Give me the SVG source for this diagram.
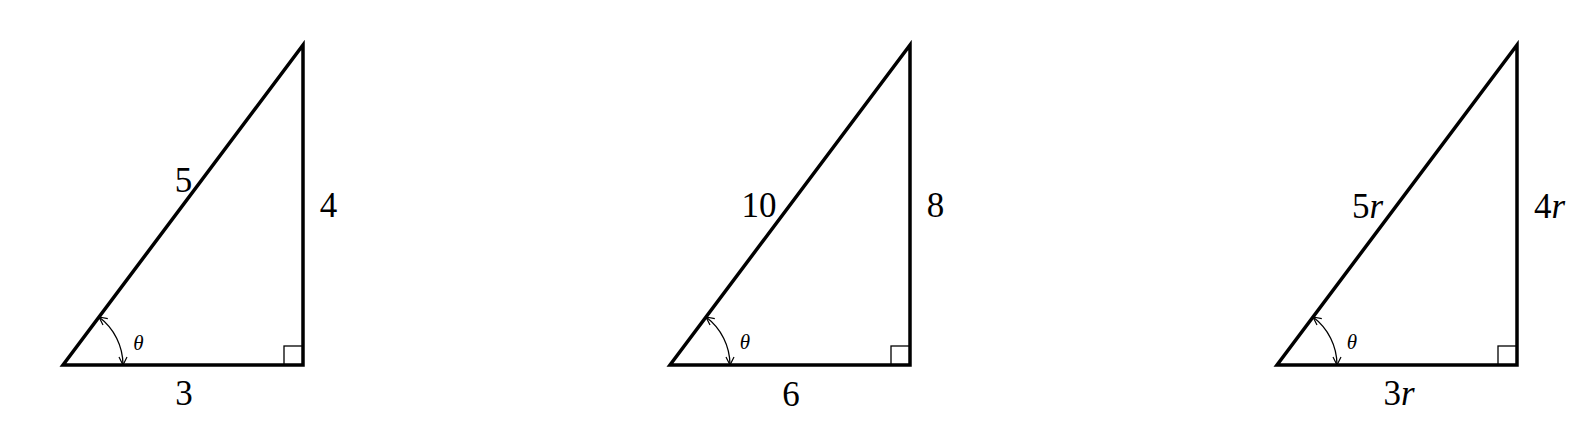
<svg xmlns="http://www.w3.org/2000/svg" width="1586" height="425" viewBox="0 0 1586 425">
<style>
.side{fill:none;stroke:#000;stroke-width:3.5;stroke-linecap:square;stroke-linejoin:miter}
.sq{fill:none;stroke:#000;stroke-width:1.3}
.arc{fill:none;stroke:#000;stroke-width:1.3;marker-start:url(#ah);marker-end:url(#ah)}
.lbl{font-family:"Liberation Serif","Times New Roman",serif;font-size:35px;fill:#000;text-anchor:middle}
.th{font-family:"Liberation Serif","Times New Roman",serif;font-size:21px;font-style:italic;fill:#000;text-anchor:middle}
.it{font-style:italic}
</style>
<defs>
<marker id="ah" viewBox="0 0 10 10" refX="9" refY="5" markerWidth="10" markerHeight="10" markerUnits="userSpaceOnUse" orient="auto-start-reverse">
<path d="M1,1 L9,5 L1,9" fill="none" stroke="#000" stroke-width="1.2"/>
</marker>
</defs>
<rect width="1586" height="425" fill="#fff"/>
<g id="triangle1" transform="translate(63,0)">
<path class="side" d="M0,365 L240,365 L240,45 Z"/>
<rect class="sq" x="221" y="346" width="19" height="19"/>
<path class="arc" d="M60,365 A60,60 0 0 0 36,317"/>
<text class="th" x="75.5" y="350">θ</text>
<text class="lbl" x="120.5" y="192">5</text>
<text class="lbl" x="265.5" y="217">4</text>
<text class="lbl" x="121" y="405">3</text>
</g>
<g id="triangle2" transform="translate(670,0)">
<path class="side" d="M0,365 L240,365 L240,45 Z"/>
<rect class="sq" x="221" y="346" width="19" height="19"/>
<path class="arc" d="M60,365 A60,60 0 0 0 36,317"/>
<text class="th" x="75" y="349">θ</text>
<text class="lbl" x="89" y="217">10</text>
<text class="lbl" x="265.5" y="217">8</text>
<text class="lbl" x="121" y="406">6</text>
</g>
<g id="triangle3" transform="translate(1277,0)">
<path class="side" d="M0,365 L240,365 L240,45 Z"/>
<rect class="sq" x="221" y="346" width="19" height="19"/>
<path class="arc" d="M60,365 A60,60 0 0 0 36,317"/>
<text class="th" x="75" y="349">θ</text>
<text class="lbl" x="90.5" y="218">5<tspan class="it">r</tspan></text>
<text class="lbl" x="272.5" y="218">4<tspan class="it">r</tspan></text>
<text class="lbl" x="122" y="405">3<tspan class="it">r</tspan></text>
</g>
</svg>
